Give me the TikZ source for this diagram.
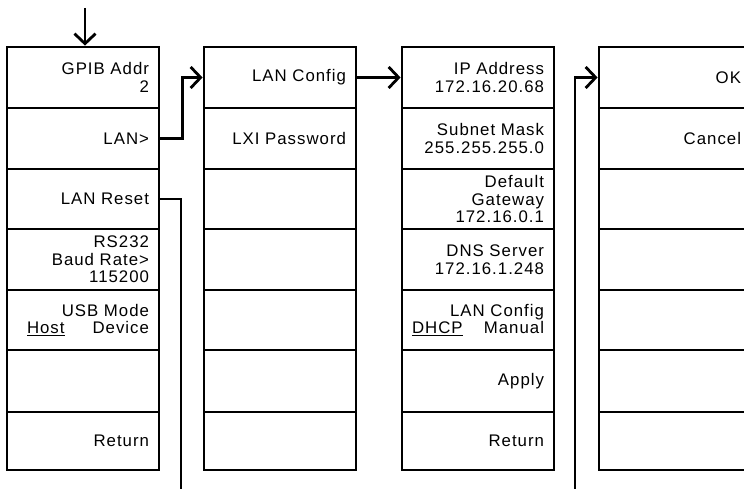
\documentclass[tikz,border=0pt]{standalone}
\usepackage{fontspec}
\setmainfont{Liberation Sans}[LetterSpace=6]
\usetikzlibrary{arrows.meta}
\begin{document}
\begin{tikzpicture}[x=1pt,y=-1pt,
  cell/.style={draw,line width=2.8pt,minimum width=152pt,inner sep=0pt,
    align=right,text width=132pt,
    font=\fontsize{16.8}{17.5}\selectfont},
  conn/.style={line width=2.8pt},
  arr/.style={conn,-{Straight Barb[length=10pt,width=21pt]}}]
\clip (0,0) rectangle (744,489);
% rows: centers and heights
\def\rowA{77.5}\def\hA{61pt}
\def\rowB{138.5}\def\hB{61pt}
\def\rowC{199}\def\hC{60pt}
\def\rowD{259.5}\def\hD{61pt}
\def\rowE{320}\def\hE{60pt}
\def\rowF{381}\def\hF{62pt}
\def\rowG{441}\def\hG{58pt}
% column 1
\node[cell,minimum height=\hA] (c1r1) at (83,\rowA) {GPIB Addr\\2};
\node[cell,minimum height=\hB] (c1r2) at (83,\rowB) {LAN>};
\node[cell,minimum height=\hC] (c1r3) at (83,\rowC) {LAN Reset};
\node[cell,minimum height=\hD] (c1r4) at (83,\rowD) {RS232\\Baud Rate>\\115200};
\node[cell,minimum height=\hE] (c1r5) at (83,\rowE) {USB Mode\\\makebox[122pt]{\underline{Host}\hfill Device}};
\node[cell,minimum height=\hF] (c1r6) at (83,\rowF) {};
\node[cell,minimum height=\hG] (c1r7) at (83,\rowG) {Return};
% column 2
\node[cell,minimum height=\hA] (c2r1) at (280,\rowA) {LAN Config};
\node[cell,minimum height=\hB] (c2r2) at (280,\rowB) {LXI Password};
\node[cell,minimum height=\hC] (c2r3) at (280,\rowC) {};
\node[cell,minimum height=\hD] (c2r4) at (280,\rowD) {};
\node[cell,minimum height=\hE] (c2r5) at (280,\rowE) {};
\node[cell,minimum height=\hF] (c2r6) at (280,\rowF) {};
\node[cell,minimum height=\hG] (c2r7) at (280,\rowG) {};
% column 3
\node[cell,minimum height=\hA] (c3r1) at (478,\rowA) {IP Address\\172.16.20.68};
\node[cell,minimum height=\hB] (c3r2) at (478,\rowB) {Subnet Mask\\255.255.255.0};
\node[cell,minimum height=\hC] (c3r3) at (478,\rowC) {Default\\Gateway\\172.16.0.1};
\node[cell,minimum height=\hD] (c3r4) at (478,\rowD) {DNS Server\\172.16.1.248};
\node[cell,minimum height=\hE] (c3r5) at (478,\rowE) {LAN Config\\\makebox[132pt]{\underline{DHCP}\hfill Manual}};
\node[cell,minimum height=\hF] (c3r6) at (478,\rowF) {Apply};
\node[cell,minimum height=\hG] (c3r7) at (478,\rowG) {Return};
% column 4
\node[cell,minimum height=\hA] (c4r1) at (675,\rowA) {OK};
\node[cell,minimum height=\hB] (c4r2) at (675,\rowB) {Cancel};
\node[cell,minimum height=\hC] (c4r3) at (675,\rowC) {};
\node[cell,minimum height=\hD] (c4r4) at (675,\rowD) {};
\node[cell,minimum height=\hE] (c4r5) at (675,\rowE) {};
\node[cell,minimum height=\hF] (c4r6) at (675,\rowF) {};
\node[cell,minimum height=\hG] (c4r7) at (675,\rowG) {};
% connectors
\coordinate (entry) at (85,8);
\coordinate (resetEnd) at (181,489);
\coordinate (applyStart) at (575,489);
\draw[arr] (entry) -- (entry |- c1r1.north);
\draw[arr] (c1r2.east) -- ++(22,0) |- (c2r1.west);
\draw[arr] (c2r1.east) -- (c3r1.west);
\draw[conn] (c1r3.east) -| (resetEnd);
\draw[arr] (applyStart) |- (c4r1.west);
\end{tikzpicture}
\end{document}
